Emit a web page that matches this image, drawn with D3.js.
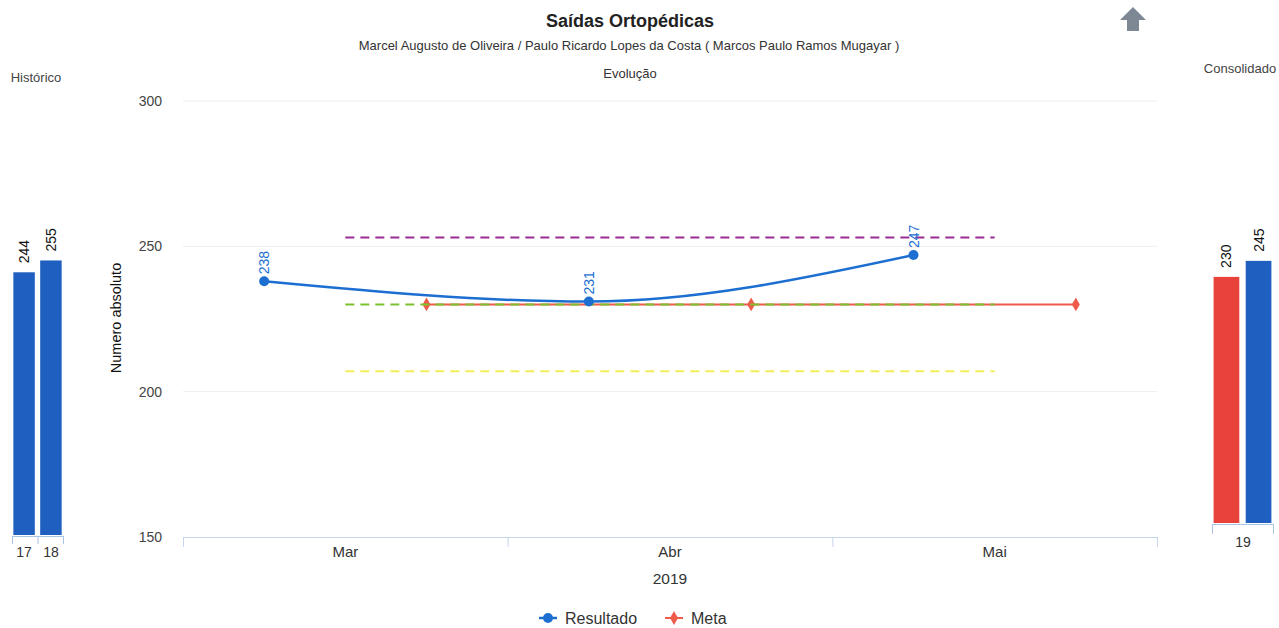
<!DOCTYPE html>
<html>
<head>
<meta charset="utf-8">
<script src="https://cdn.jsdelivr.net/npm/d3@7.9.0/dist/d3.min.js"></script>
<style>
  body { margin: 0; background: #fff; }
  svg { font-family: "Liberation Sans", Arial, sans-serif; display: block; }
</style>
</head>
<body>
<svg id="chart" width="1279" height="628"></svg>
<script>
// Data
const months = ['Mar', 'Abr', 'Mai'];
const resultado = [238, 231, 247];
const meta = [230, 230, 230];
const yTicks = [150, 200, 250, 300];

// horizontal reference lines (purple, green, yellow)
const refValues = [253, 230, 207];
const refColors = ['#9a2c94', '#7cc22e', '#f2ee5a'];

const histYears = ['17', '18'];
const histValues = [244, 255];

const consolYears = ['19'];
const consolMeta = [230];
const consolResultado = [245];

const blue = '#1c6fd0';
const barBlue = '#1f5fc0';
const red = '#ee5b4a';

const svg = d3.select('#chart');

// Titles
svg.append('text').attr('x', 630).attr('y', 27).attr('text-anchor', 'middle')
  .attr('font-size', 18).attr('font-weight', 'bold').attr('fill', '#222')
  .text('Saídas Ortopédicas');
svg.append('text').attr('x', 629).attr('y', 50).attr('text-anchor', 'middle')
  .attr('font-size', 13).attr('fill', '#333')
  .text('Marcel Augusto de Oliveira / Paulo Ricardo Lopes da Costa ( Marcos Paulo Ramos Mugayar )');
svg.append('text').attr('x', 630).attr('y', 78).attr('text-anchor', 'middle')
  .attr('font-size', 13).attr('fill', '#333').text('Evolução');

// up arrow icon
svg.append('path')
  .attr('d', 'M1133,7 L1146,20 L1139,20 L1139,31 L1127,31 L1127,20 L1120,20 Z')
  .attr('fill', '#7d8894');

// ---- main chart ----
const x = d3.scaleBand(months, [183, 1157]);
const xs = d3.scaleBand(['Resultado', 'Meta'], [0, x.bandwidth()]);
const y = d3.scaleLinear([150, 300], [537, 101]);

// gridlines
svg.append('g').selectAll('line').data(yTicks.slice(1)).join('line')
  .attr('x1', 183).attr('x2', 1157)
  .attr('y1', d => y(d)).attr('y2', d => y(d))
  .attr('stroke', '#eeeeee');

// y tick labels
svg.append('g').selectAll('text').data(yTicks).join('text')
  .attr('x', 162).attr('y', d => y(d) + 5)
  .attr('text-anchor', 'end').attr('font-size', 14).attr('fill', '#444')
  .text(d => d);

svg.append('text')
  .attr('transform', 'translate(121,318) rotate(-90)')
  .attr('text-anchor', 'middle').attr('font-size', 14.5).attr('fill', '#111')
  .text('Numero absoluto');

// x axis
const xAxis = svg.append('g').attr('transform', 'translate(0,537)');
xAxis.call(d3.axisBottom(d3.scaleLinear([0, months.length], [183, 1157]))
  .ticks(months.length).tickSize(10).tickFormat(''));
xAxis.selectAll('path, line').attr('stroke', '#c6d6ea');
xAxis.append('g').selectAll('text').data(months).join('text')
  .attr('x', d => x(d) + x.bandwidth() / 2).attr('y', 20)
  .attr('text-anchor', 'middle').attr('font-size', 15).attr('fill', '#333')
  .text(d => d);
svg.append('text').attr('x', 670).attr('y', 584).attr('text-anchor', 'middle')
  .attr('font-size', 15.5).attr('fill', '#333').text('2019');

// meta line
const metaX = (d, i) => x(months[i]) + xs('Meta') + xs.bandwidth() / 2;
svg.append('path')
  .datum(meta)
  .attr('d', d3.line().x(metaX).y(d => y(d)))
  .attr('fill', 'none').attr('stroke', red).attr('stroke-width', 2);
svg.append('g').selectAll('path').data(meta).join('path')
  .attr('transform', (d, i) => `translate(${metaX(d, i)},${y(d)})`)
  .attr('d', d3.symbol(d3.symbolDiamond, 55))
  .attr('fill', red);

// dashed reference lines (drawn over the meta line)
const centerX = m => x(m) + x.bandwidth() / 2;
svg.append('g').selectAll('line').data(refValues).join('line')
  .attr('x1', centerX(months[0])).attr('x2', centerX(months[months.length - 1]))
  .attr('y1', d => y(d)).attr('y2', d => y(d))
  .attr('stroke', (d, i) => refColors[i])
  .attr('stroke-width', 2).attr('stroke-dasharray', '9,6');

// resultado line
const resX = (d, i) => x(months[i]) + xs('Resultado') + xs.bandwidth() / 2;
svg.append('path')
  .datum(resultado)
  .attr('d', d3.line().x(resX).y(d => y(d)).curve(d3.curveMonotoneX))
  .attr('fill', 'none').attr('stroke', blue).attr('stroke-width', 2.5);
svg.append('g').selectAll('circle').data(resultado).join('circle')
  .attr('cx', resX).attr('cy', d => y(d)).attr('r', 5)
  .attr('fill', blue);
svg.append('g').selectAll('text').data(resultado).join('text')
  .attr('transform', (d, i) => `translate(${resX(d, i) + 5},${y(d) - 7}) rotate(-90)`)
  .attr('font-size', 14).attr('fill', blue)
  .text(d => d);

// legend
const legend = svg.append('g').attr('transform', 'translate(0,618)');
legend.append('line').attr('x1', 539).attr('x2', 557).attr('stroke', blue).attr('stroke-width', 2.5);
legend.append('circle').attr('cx', 548).attr('r', 5).attr('fill', blue);
legend.append('text').attr('x', 565).attr('y', 6).attr('font-size', 16).attr('fill', '#333').text('Resultado');
legend.append('line').attr('x1', 665).attr('x2', 683).attr('stroke', red).attr('stroke-width', 2);
legend.append('path').attr('transform', 'translate(674,0)')
  .attr('d', d3.symbol(d3.symbolDiamond, 55)).attr('fill', red);
legend.append('text').attr('x', 691).attr('y', 6).attr('font-size', 16).attr('fill', '#333').text('Meta');

// ---- histórico panel ----
svg.append('text').attr('x', 36).attr('y', 82).attr('text-anchor', 'middle')
  .attr('font-size', 13).attr('fill', '#444').text('Histórico');

const hx = d3.scaleBand(histYears, [12, 63]).paddingInner(0.2).paddingOuter(0.05);
const hy = d3.scaleLinear([0, 300], [535, 212]);
const hist = svg.append('g');
hist.selectAll('rect').data(histValues).join('rect')
  .attr('x', (d, i) => hx(histYears[i])).attr('width', hx.bandwidth())
  .attr('y', d => hy(d)).attr('height', d => hy(0) - hy(d))
  .attr('fill', barBlue);
hist.selectAll('text.lbl').data(histValues).join('text').attr('class', 'lbl')
  .attr('transform', (d, i) => `translate(${hx(histYears[i]) + hx.bandwidth() / 2 + 5},${hy(d) - 9}) rotate(-90)`)
  .attr('font-size', 14).attr('fill', '#111').text(d => d);
const hAxis = svg.append('g').attr('transform', 'translate(0,536)');
hAxis.call(d3.axisBottom(d3.scaleLinear([0, histYears.length], [12, 63]))
  .ticks(histYears.length).tickSize(8).tickFormat(''));
hAxis.selectAll('path, line').attr('stroke', '#a9c4e6');
hAxis.append('g').selectAll('text').data(histYears).join('text')
  .attr('x', d => hx(d) + hx.bandwidth() / 2).attr('y', 21)
  .attr('text-anchor', 'middle').attr('font-size', 14).attr('fill', '#333')
  .text(d => d);

// ---- consolidado panel ----
svg.append('text').attr('x', 1240).attr('y', 73).attr('text-anchor', 'middle')
  .attr('font-size', 13).attr('fill', '#444').text('Consolidado');

const cx = d3.scaleBand(consolYears, [1212, 1273]);
const cs = d3.scaleBand(['Meta', 'Resultado'], [0, cx.bandwidth()]).paddingInner(0.2).paddingOuter(0.05);
const cy = d3.scaleLinear([0, 300], [523, 202]);
const consolData = [
  { key: 'Meta', value: consolMeta[0], color: '#e9423b' },
  { key: 'Resultado', value: consolResultado[0], color: barBlue }
];
const consol = svg.append('g').attr('transform', `translate(${cx(consolYears[0])},0)`);
consol.selectAll('rect').data(consolData).join('rect')
  .attr('x', d => cs(d.key)).attr('width', cs.bandwidth())
  .attr('y', d => cy(d.value)).attr('height', d => cy(0) - cy(d.value))
  .attr('fill', d => d.color);
consol.selectAll('text').data(consolData).join('text')
  .attr('transform', d => `translate(${cs(d.key) + cs.bandwidth() / 2 + 5},${cy(d.value) - 9}) rotate(-90)`)
  .attr('font-size', 14).attr('fill', '#111').text(d => d.value);
const cAxis = svg.append('g').attr('transform', 'translate(0,524)');
cAxis.call(d3.axisBottom(d3.scaleLinear([0, 1], [1212, 1273])).ticks(1).tickSize(10).tickFormat(''));
cAxis.selectAll('path, line').attr('stroke', '#a9c4e6');
cAxis.append('text').attr('x', 1243).attr('y', 23).attr('text-anchor', 'middle')
  .attr('font-size', 14).attr('fill', '#333').text(consolYears[0]);
</script>
</body>
</html>
